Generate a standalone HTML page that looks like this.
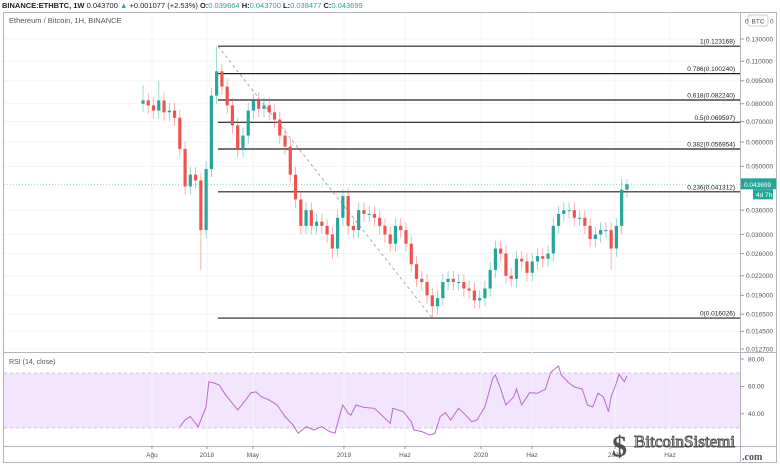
<!DOCTYPE html>
<html><head><meta charset="utf-8"><style>
body{margin:0;background:#fff;}
svg{display:block;font-family:"Liberation Sans",sans-serif;}
</style></head><body>
<svg id="chart" width="780" height="470" viewBox="0 0 780 470" xmlns="http://www.w3.org/2000/svg">
<rect x="0" y="0" width="780" height="470" fill="#fff"/>
<text x="2" y="8" font-size="7.5" fill="#222"><tspan font-weight="bold">BINANCE:ETHBTC, 1W</tspan> 0.043700 <tspan fill="#26a69a">▲</tspan> +0.001077 (+2.53%) <tspan font-weight="bold">O:</tspan><tspan fill="#26a69a">0.039664</tspan> <tspan font-weight="bold">H:</tspan><tspan fill="#26a69a">0.043700</tspan> <tspan font-weight="bold">L:</tspan><tspan fill="#26a69a">0.038477</tspan> <tspan font-weight="bold">C:</tspan><tspan fill="#26a69a">0.043699</tspan></text>
<rect x="3.5" y="12.5" width="773" height="450" fill="none" stroke="#b2b5be" stroke-width="1"/>
<line x1="740.5" y1="12" x2="740.5" y2="462" stroke="#b2b5be"/>
<line x1="3" y1="352.5" x2="776" y2="352.5" stroke="#b2b5be"/>
<line x1="3" y1="446.5" x2="776" y2="446.5" stroke="#b2b5be"/>
<text x="9" y="23" font-size="7.5" fill="#555">Ethereum / Bitcoin, 1H, BINANCE</text>
<rect x="748" y="15" width="20" height="11" rx="2" fill="#fff" stroke="#ccc"/>
<text x="758" y="23.5" font-size="6.5" fill="#555" text-anchor="middle">BTC</text>
<text x="745" y="23.5" font-size="6.5" fill="#555">0</text>
<text x="770" y="23.5" font-size="6.5" fill="#555">0</text>
<text x="9" y="364" font-size="7" fill="#555">RSI (14, close)</text>
<rect x="4" y="373" width="736" height="55" fill="#f3e5fd"/>
<line x1="4" y1="373" x2="740" y2="373" stroke="#c7b4d6" stroke-dasharray="3,3" stroke-width="0.8"/>
<line x1="4" y1="428" x2="740" y2="428" stroke="#c7b4d6" stroke-dasharray="3,3" stroke-width="0.8"/>
<g id="grid"></g><g id="fib"></g><g id="candles"></g><g id="rsi"></g><g id="axes"></g>
<g opacity="0.85">
<text x="612" y="456" font-size="30" font-weight="bold" fill="#333" font-family="Liberation Serif,serif">$</text>
<text x="634" y="447" font-size="17" fill="#fff" stroke="#333" stroke-width="1" font-family="Liberation Serif,serif">BitcoinSistemi</text>
<text x="742" y="460" font-size="10" fill="#333" font-weight="bold" font-family="Liberation Serif,serif">.com</text>
</g>
</svg>
<script>
// price data (biweekly candles, week index = 2*i)
const closes=[0.082,0.079,0.076,0.082,0.075,0.076,0.072,0.057,0.043,0.047,0.045,0.031,0.049,0.085,0.102,0.091,0.079,0.068,0.057,0.063,0.076,0.082,0.077,0.079,0.075,0.071,0.063,0.058,0.047,0.039,0.032,0.036,0.032,0.033,0.032,0.030,0.027,0.034,0.040,0.032,0.031,0.036,0.035,0.035,0.034,0.032,0.030,0.028,0.032,0.031,0.028,0.024,0.0215,0.021,0.019,0.0175,0.0186,0.021,0.0215,0.021,0.021,0.020,0.0197,0.0183,0.0186,0.020,0.023,0.027,0.026,0.022,0.0215,0.025,0.0245,0.0225,0.0245,0.0255,0.025,0.026,0.032,0.035,0.036,0.036,0.034,0.034,0.032,0.029,0.030,0.031,0.031,0.027,0.032,0.042,0.0437];
const firstOpen=0.080;
const highOverrides={0:0.092,3:0.095,14:0.123,21:0.086,38:0.042,91:0.0455,92:0.0455};
const lowOverrides={11:0.023,55:0.016,89:0.023,36:0.025};
// RSI
const rsiWeeks=[14,16,18,21,24,25,27,29,31,33,36,39,41,43,45,48,51,54,57,59,62,65,68,71,73,75,76,78,79,81,84,88,92,94,95,99,102,103,106,109,111,113,115,117,120,122,125,127,130,133,134,136,138,141,142,144,147,150,153,155,157,158,159,162,164,167,169,171,173,175,177,178,180,181,183,184];
const rsiValues=[30.6,35.5,38,30.6,45,63.4,62.5,61,55,50,42.8,50,55.4,56,52.5,50,46.4,38,32,25.8,30.6,28.2,30.6,27,26,40.4,46.4,40.4,39,46.4,44.7,44,36.7,33,44,41.5,34.2,28.2,27,24.5,25.8,38,40.8,35.5,44,40.4,34.2,35.5,45,65.9,68.3,58,46.4,52.5,58,46.4,55.4,55,58,70,73.4,74.9,68.3,62.5,59.6,58,46.4,45,55,52.5,41.5,52.5,62.5,68.8,63.4,67.6];
// axes
const priceTicks=[0.13,0.11,0.095,0.08,0.07,0.06,0.05,0.036,0.03,0.026,0.022,0.019,0.0165,0.0145,0.0127];
const rsiTicks=[80,60,40];
const timeLabels=["Ağu","2018","May","2019","Haz","2020","Haz","2021","Haz"];
const timeWeeks=[3.4,24.3,41.8,76.4,99.6,128.5,147.9,179.5,200.4];
const fibRatios=["1","0.786","0.618","0.5","0.382","0.236","0"];
const fibPrices=[0.123168,0.100240,0.082240,0.069597,0.056954,0.041312,0.016026];
const fibStartWeek=28.5, fibEndWeek=110;
const lastPrice=0.043699;

const NS="http://www.w3.org/2000/svg";
function yP(v){return 39+(Math.log(0.13)-Math.log(v))*133.3;}
function yR(v){return 359+(80-v)*1.37;}
function xW(w){return 143+w*2.63;}
function mk(tag,attrs,parent){const e=document.createElementNS(NS,tag);for(const k in attrs)e.setAttribute(k,attrs[k]);document.getElementById(parent).appendChild(e);return e;}

// grid
priceTicks.forEach(v=>{const l=mk('line',{x1:4,x2:740,y1:yP(v),y2:yP(v),stroke:'#f3f4f6','stroke-width':1},'grid');

});
timeWeeks.forEach(w=>{const l=mk('line',{x1:xW(w),x2:xW(w),y1:13,y2:446,stroke:'#f3f4f6','stroke-width':1},'grid');

});

// fib
fibPrices.forEach((p,i)=>{const y=yP(p);
const l=mk('line',{x1:xW(fibStartWeek),x2:740,y1:y,y2:y,stroke:'#222','stroke-width':1.2},'fib');


const t=mk('text',{x:735,y:y-2.5,'font-size':6.5,fill:'#222','text-anchor':'end'},'fib');
t.textContent=fibRatios[i]+"("+p.toFixed(6)+")";

});
const dg=mk('line',{x1:xW(fibStartWeek),y1:yP(fibPrices[0]),x2:xW(fibEndWeek),y2:yP(fibPrices[6]),stroke:'#999','stroke-width':0.8,'stroke-dasharray':'3,3'},'fib');


// last price line
const lp=mk('line',{x1:4,x2:740,y1:yP(lastPrice),y2:yP(lastPrice),stroke:'#80cbc4','stroke-width':0.8,'stroke-dasharray':'1,2'},'fib');



// candles
closes.forEach((c,i)=>{const o=i===0?firstOpen:closes[i-1];
const up=c>=o;const col=up?'#26a69a':'#ef5350';
const hi=highOverrides[i]!==undefined?highOverrides[i]:Math.max(o,c)*1.06;
const lo=lowOverrides[i]!==undefined?lowOverrides[i]:Math.min(o,c)*0.94;
const x=xW(2*i);
const w=mk('line',{x1:x,x2:x,y1:yP(hi),y2:yP(lo),stroke:col,'stroke-width':0.8,opacity:0.55},'candles');


const y1=yP(Math.max(o,c)),y2=yP(Math.min(o,c));
const b=mk('rect',{x:x-1.6,y:y1,width:3.2,height:Math.max(1,y2-y1),fill:col},'candles');

});

// rsi
const pts=rsiWeeks.map((w,i)=>xW(w).toFixed(1)+","+yR(rsiValues[i]).toFixed(1)).join(" ");
const rl=mk('polyline',{points:pts,fill:'none',stroke:'#ba68c8','stroke-width':1},'rsi');



// axes
priceTicks.forEach(v=>{const y=yP(v);
mk('line',{x1:740,x2:744,y1:y,y2:y,stroke:'#999'},'axes');
const t=mk('text',{x:746,y:y+2.3,'font-size':6.5,fill:'#555'},'axes');t.textContent=v.toFixed(6);

});
rsiTicks.forEach(v=>{const y=yR(v);
mk('line',{x1:740,x2:744,y1:y,y2:y,stroke:'#999'},'axes');
const t=mk('text',{x:748,y:y+2.3,'font-size':6.5,fill:'#555'},'axes');t.textContent=v.toFixed(2);

});
timeLabels.forEach((s,i)=>{const x=xW(timeWeeks[i]);
mk('line',{x1:x,x2:x,y1:446,y2:449,stroke:'#999'},'axes');
const t=mk('text',{x:x,y:457,'font-size':6.5,fill:'#555','text-anchor':'middle'},'axes');t.textContent=s;

});
// price tag
const ty=yP(lastPrice);
const pt=mk('rect',{x:741,y:ty-6,width:35,height:11,fill:'#26a69a'},'axes');


const ptt=mk('text',{x:744,y:ty+2.5,'font-size':6.5,fill:'#fff'},'axes');ptt.textContent=lastPrice.toFixed(6);
const cd=mk('rect',{x:753,y:ty+5,width:20,height:10,fill:'#26a69a'},'axes');


const cdt=mk('text',{x:756,y:ty+12.5,'font-size':6.5,fill:'#fff'},'axes');cdt.textContent="4d 7h";
</script>
</body></html>
